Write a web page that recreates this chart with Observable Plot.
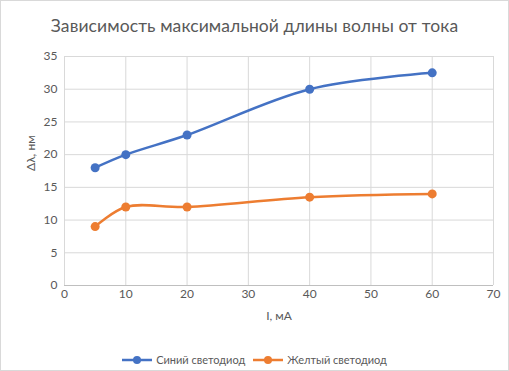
<!DOCTYPE html>
<html><head><meta charset="utf-8">
<script src="https://cdn.jsdelivr.net/npm/d3@7"></script>
<script src="https://cdn.jsdelivr.net/npm/@observablehq/plot@0.6"></script>
<style>
body{margin:0;background:#fff;}
#wrap{position:relative;width:509px;height:371px;font-family:Lato,"Open Sans",sans-serif;color:#595959;}
#frame{position:absolute;left:0;top:0;width:507px;height:369px;border:1px solid #d9d9d9;pointer-events:none;}
#title{position:absolute;left:0;top:15px;width:509px;text-align:center;font-size:17.5px;color:#595959;letter-spacing:0.1px;}
#legend{position:absolute;left:0;top:353px;width:509px;display:flex;justify-content:center;gap:8px;font-size:11px;color:#595959;}
.item{display:flex;align-items:center;gap:4px;}
#chart{position:absolute;left:0;top:0;}
</style></head>
<body>
<div id="wrap"><div id="chart"></div><div id="title">Зависимость максимальной длины волны от тока</div><div id="legend"></div><div id="frame"></div></div>
<script>
const current = [5, 10, 20, 40, 60];
const blueSeries = [18, 20, 23, 30, 32.5];
const orangeSeries = [9, 12, 12, 13.5, 14];
const seriesNames = ["Синий светодиод", "Желтый светодиод"];
const colors = ["#4472c4", "#ed7d31"];
const xTicks = [0, 10, 20, 30, 40, 50, 60, 70];
const yTicks = [0, 5, 10, 15, 20, 25, 30, 35];

const data = [];
[blueSeries, orangeSeries].forEach((s, k) => s.forEach((v, i) => data.push({x: current[i], y: v, s: seriesNames[k]})));

const plot = Plot.plot({
  width: 509, height: 371,
  marginLeft: 64, marginRight: 16, marginTop: 56, marginBottom: 86,
  style: {fontFamily: "Lato, 'Open Sans', sans-serif", fontSize: "12px", color: "#595959", background: "transparent"},
  x: {domain: [0, 70], ticks: xTicks, label: null},
  y: {domain: [0, 35], ticks: yTicks, label: null},
  color: {domain: seriesNames, range: colors},
  marks: [
    Plot.gridX(xTicks, {stroke: "#d9d9d9", strokeOpacity: 1}),
    Plot.gridY(yTicks, {stroke: "#d9d9d9", strokeOpacity: 1}),
    Plot.ruleY([0], {stroke: "#bfbfbf"}),
    Plot.axisX({ticks: xTicks, tickSize: 0, tickPadding: 4, fill: "#595959", label: null}),
    Plot.axisY({ticks: yTicks, tickSize: 0, tickPadding: 7, fill: "#595959", label: null}),
    Plot.line(data, {x: "x", y: "y", z: "s", stroke: "s", strokeWidth: 2.5, curve: "catmull-rom"}),
    Plot.dot(data, {x: "x", y: "y", fill: "s", r: 4.5}),
    Plot.text(["I, мА"], {frameAnchor: "bottom", dy: 34, fontSize: 12, fill: "#595959"}),
    Plot.text(["Δλ, нм"], {frameAnchor: "left", dx: -33, rotate: -90, fontSize: 12, fill: "#595959"})
  ]
});
document.getElementById("chart").appendChild(plot);

const lg = document.getElementById("legend");
seriesNames.forEach((n, i) => {
  const it = document.createElement("div"); it.className = "item";
  it.innerHTML = `<svg width="30" height="10"><line x1="0" y1="5" x2="30" y2="5" stroke="${colors[i]}" stroke-width="2.5"/><circle cx="15" cy="5" r="4" fill="${colors[i]}"/></svg><span>${n}</span>`;
  lg.appendChild(it);
});
</script>
</body></html>
